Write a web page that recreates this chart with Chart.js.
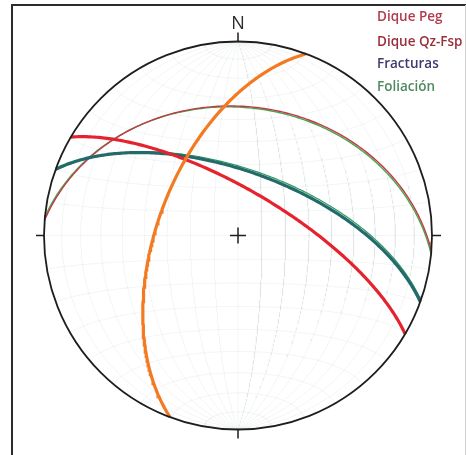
<!DOCTYPE html>
<html lang="es">
<head>
<meta charset="UTF-8">
<title>Estereograma</title>
<script src="https://cdn.jsdelivr.net/npm/chart.js"></script>
<style>
    html, body { margin: 0; padding: 0; background: #fff; }
    #wrap { width: 466px; height: 455px; }
</style>
</head>
<body>
<div id="wrap"><canvas id="net" width="466" height="455"></canvas></div>
<script>
// leyenda
const seriesNames = ['Dique Peg', 'Dique Qz-Fsp', 'Fracturas', 'Foliación'];
const seriesTextColors = ['#b23b50', '#9a2f3b', '#3c3a70', '#4f8a5f'];

// planos (hemisferio inferior): grupo, dirección de buzamiento, buzamiento
const planeGroup  = [1, 0, 2, 3, 0, 3];
const planeDipDir = [290.5, 30.5, 20, 19.5, 4.5, 5.5];
const planeDip    = [56, 71, 63, 62, 33.8, 34.3];

// estilo de cada plano
const planeColors = ['#f37a22', '#e5222d', '#236a6c', '#2f9a5a', '#c23a48', '#45a84e'];
const planeWidths = [3.2, 3.2, 3.2, 1.2, 1.4, 1.4];

const gridStep = 10;

const rad = Math.PI / 180;

// Schmidt (igual área), vector (este, norte, abajo) con abajo >= 0
function project(e, n, d) {
    const k = 1 / Math.sqrt(1 + d);
    return { x: e * k, y: n * k };
}

function greatCircle(dipDir, dip) {
    const s = (dipDir - 90) * rad, dd = dipDir * rad, dp = dip * rad;
    const S = [Math.sin(s), Math.cos(s), 0];
    const D = [Math.cos(dp) * Math.sin(dd), Math.cos(dp) * Math.cos(dd), Math.sin(dp)];
    const pts = [];
    for (let t = 0; t <= 180; t += 1) {
        const c = Math.cos(t * rad), si = Math.sin(t * rad);
        pts.push(project(c * S[0] + si * D[0], c * S[1] + si * D[1], Math.max(0, c * S[2] + si * D[2])));
    }
    return pts;
}

function smallCircleNS(alpha) {
    const a = alpha * rad, pts = [];
    for (let f = 0; f <= 180; f += 2) {
        const p = f * rad;
        pts.push(project(Math.sin(a) * Math.cos(p), Math.cos(a), Math.sin(a) * Math.sin(p)));
    }
    return pts;
}

const datasets = [];

planeDip.forEach((dip, i) => {
    datasets.push({
        label: seriesNames[planeGroup[i]],
        data: greatCircle(planeDipDir[i], dip),
        showLine: true,
        borderColor: planeColors[i],
        borderWidth: planeWidths[i],
        pointRadius: 0,
        tension: 0,
        clip: false,
        order: i
    });
});

// red de Schmidt
const gridLines = [];
for (let a = gridStep; a < 90; a += gridStep) {
    gridLines.push(greatCircle(90, a), greatCircle(270, a));
}
for (let a = gridStep; a < 180; a += gridStep) {
    if (a !== 90) gridLines.push(smallCircleNS(a));
}
gridLines.push([{ x: 0, y: -1 }, { x: 0, y: 1 }], [{ x: -1, y: 0 }, { x: 1, y: 0 }]);
gridLines.forEach(pts => {
    datasets.push({
        label: 'grid',
        data: pts,
        showLine: true,
        borderColor: 'rgba(120,140,150,0.09)',
        borderWidth: 1,
        pointRadius: 0,
        order: 100
    });
});

const netDecor = {
    id: 'netDecor',
    beforeDraw(chart) {
        const ctx = chart.ctx;
        ctx.save();
        ctx.fillStyle = '#fff';
        ctx.fillRect(0, 0, chart.width, chart.height);
        ctx.strokeStyle = '#2b2b2b';
        ctx.lineWidth = 2;
        ctx.beginPath();
        ctx.moveTo(12, 455);
        ctx.lineTo(12, 5);
        ctx.lineTo(466, 5);
        ctx.stroke();
        ctx.strokeStyle = '#cfcfcf';
        ctx.lineWidth = 1;
        ctx.beginPath();
        ctx.moveTo(465.5, 5);
        ctx.lineTo(465.5, 455);
        ctx.stroke();
        ctx.restore();
    },
    afterDatasetsDraw(chart) {
        const ctx = chart.ctx, xs = chart.scales.x, ys = chart.scales.y;
        const cx = xs.getPixelForValue(0), cy = ys.getPixelForValue(0);
        const r = xs.getPixelForValue(1) - cx;
        ctx.save();
        ctx.strokeStyle = '#1e1e1e';
        ctx.lineWidth = 1.8;
        ctx.beginPath();
        ctx.arc(cx, cy, r, 0, Math.PI * 2);
        ctx.stroke();
        ctx.lineWidth = 1.5;
        ctx.beginPath();
        ctx.moveTo(cx, cy - r); ctx.lineTo(cx, cy - r - 9);
        ctx.moveTo(cx, cy + r); ctx.lineTo(cx, cy + r + 9);
        ctx.moveTo(cx - r, cy); ctx.lineTo(cx - r - 8, cy);
        ctx.moveTo(cx + r, cy); ctx.lineTo(cx + r + 9, cy);
        ctx.moveTo(cx - 8, cy); ctx.lineTo(cx + 8, cy);
        ctx.moveTo(cx, cy - 8); ctx.lineTo(cx, cy + 8);
        ctx.stroke();
        ctx.fillStyle = '#2a2a2a';
        ctx.font = '18px "Open Sans", sans-serif';
        ctx.textAlign = 'center';
        ctx.textBaseline = 'alphabetic';
        ctx.fillText('N', cx, cy - r - 13);

        ctx.font = '600 13.5px "Open Sans", sans-serif';
        ctx.textAlign = 'left';
        ctx.textBaseline = 'middle';
        const rows = [17, 42, 64.5, 87];
        seriesNames.forEach((name, i) => {
            ctx.fillStyle = seriesTextColors[i];
            ctx.fillText(name, 377, rows[i]);
        });
        ctx.restore();
    }
};

new Chart(document.getElementById('net'), {
    type: 'scatter',
    data: { datasets: datasets },
    options: {
        responsive: false,
        animation: false,
        layout: { padding: { left: 44, right: 34, top: 41.5, bottom: 25.5 } },
        scales: {
            x: { type: 'linear', min: -1, max: 1, display: false },
            y: { type: 'linear', min: -1, max: 1, display: false }
        },
        plugins: {
            legend: { display: false },
            tooltip: { enabled: false }
        }
    },
    plugins: [netDecor]
});
</script>
</body>
</html>
